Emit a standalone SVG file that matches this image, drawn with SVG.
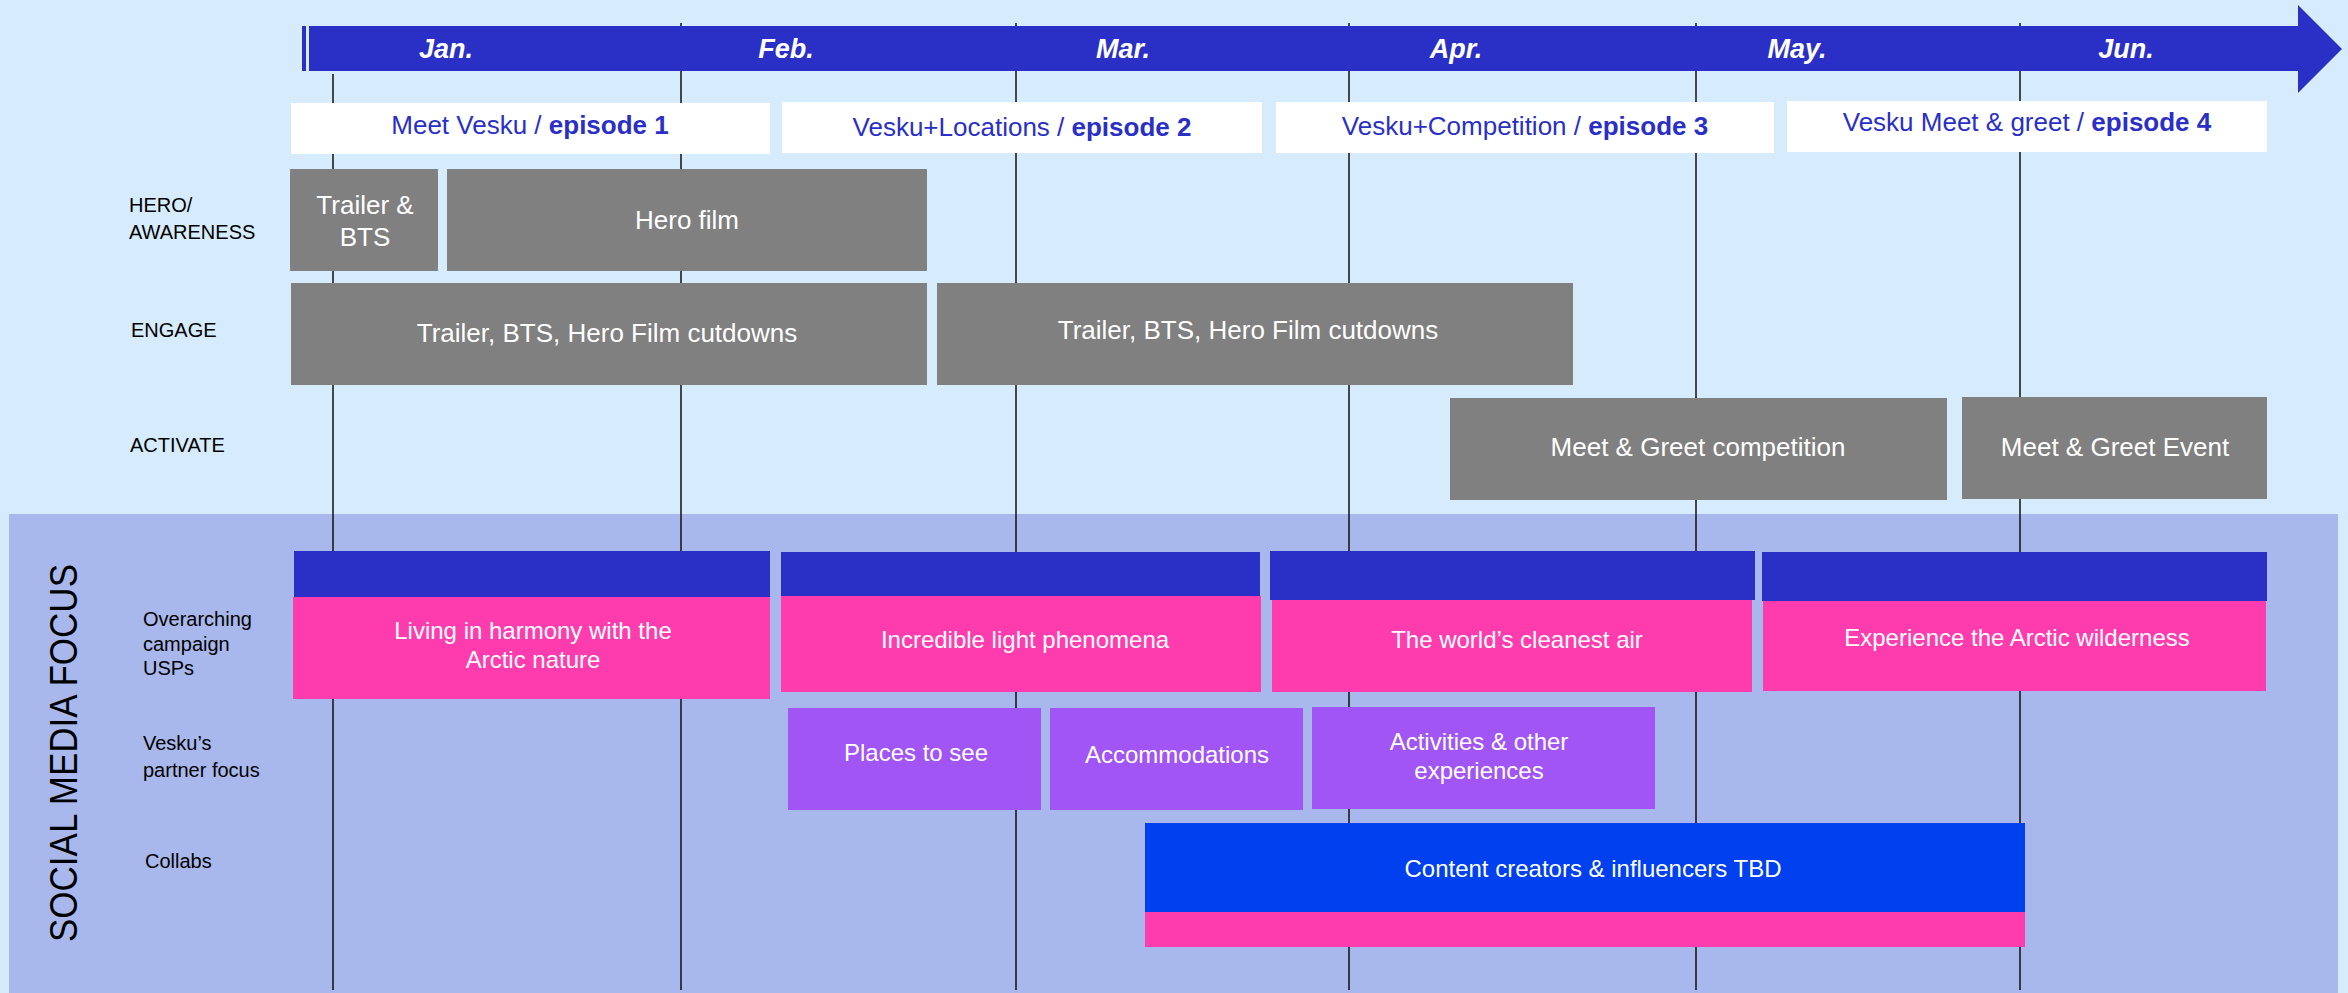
<svg xmlns="http://www.w3.org/2000/svg" width="2348" height="993" viewBox="0 0 2348 993">
<style>
text{font-family:"Liberation Sans",Arial,sans-serif}
.gray{fill:#808080}
.pink{fill:#ff3cae}
.navy{fill:#2a2fc6}
.purple{fill:#a155f5}
.ep{fill:#ffffff}
.ept{fill:#2a2fc6;font-size:26px}
.b{font-weight:bold}
.wt{fill:#ffffff;font-size:26px;text-anchor:middle}
.wu{fill:#ffffff;font-size:24px;text-anchor:middle}
.lbl{fill:#000000;font-size:20px}
.mon{fill:#ffffff;font-size:27px;font-weight:bold;font-style:italic;text-anchor:middle}
.grid{stroke:#111111;stroke-width:1.5}
</style>
<rect x="0" y="0" width="2348" height="993" fill="#d6ecfc"/>
<rect x="9" y="514" width="2329" height="479" fill="#a8b8ec"/>

<g id="month-lines">
<line class="grid" x1="333" y1="74" x2="333" y2="990"/>
<line class="grid" x1="681" y1="23" x2="681" y2="990"/>
<line class="grid" x1="1016" y1="23" x2="1016" y2="990"/>
<line class="grid" x1="1349" y1="23" x2="1349" y2="990"/>
<line class="grid" x1="1696" y1="23" x2="1696" y2="990"/>
<line class="grid" x1="2020" y1="23" x2="2020" y2="990"/>
</g>

<g id="timeline-arrow">
<rect x="302" y="26" width="4" height="45" class="navy"/>
<polygon class="navy" points="309,26 2298,26 2298,5 2342,49 2298,93 2298,71 309,71"/>
<text class="mon" x="446" y="58">Jan.</text>
<text class="mon" x="786" y="58">Feb.</text>
<text class="mon" x="1123" y="58">Mar.</text>
<text class="mon" x="1456" y="58">Apr.</text>
<text class="mon" x="1797" y="58">May.</text>
<text class="mon" x="2126" y="58">Jun.</text>
</g>

<g id="episode-1"><rect class="ep" x="291" y="103" width="479" height="51"/><text class="ept" x="530" y="134" text-anchor="middle">Meet Vesku / <tspan class="b">episode 1</tspan></text></g>
<g id="episode-2"><rect class="ep" x="782" y="102" width="480" height="51"/><text class="ept" x="1022" y="136" text-anchor="middle">Vesku+Locations / <tspan class="b">episode 2</tspan></text></g>
<g id="episode-3"><rect class="ep" x="1276" y="102" width="498" height="51"/><text class="ept" x="1525" y="135" text-anchor="middle">Vesku+Competition / <tspan class="b">episode 3</tspan></text></g>
<g id="episode-4"><rect class="ep" x="1787" y="101" width="480" height="51"/><text class="ept" x="2027" y="131" text-anchor="middle">Vesku Meet &amp; greet / <tspan class="b">episode 4</tspan></text></g>

<g id="label-hero"><text class="lbl" x="129" y="212">HERO/</text><text class="lbl" x="129" y="239">AWARENESS</text></g>
<g id="label-engage"><text class="lbl" x="131" y="337">ENGAGE</text></g>
<g id="label-activate"><text class="lbl" x="130" y="452">ACTIVATE</text></g>

<g id="trailer-bts"><rect class="gray" x="290" y="169" width="148" height="102"/><text class="wt" x="365" y="214">Trailer &amp;</text><text class="wt" x="365" y="246">BTS</text></g>
<g id="hero-film"><rect class="gray" x="447" y="169" width="480" height="102"/><text class="wt" x="687" y="229">Hero film</text></g>
<g id="engage-1"><rect class="gray" x="291" y="283" width="636" height="102"/><text class="wt" x="607" y="342">Trailer, BTS, Hero Film cutdowns</text></g>
<g id="engage-2"><rect class="gray" x="937" y="283" width="636" height="102"/><text class="wt" x="1248" y="339">Trailer, BTS, Hero Film cutdowns</text></g>
<g id="mg-competition"><rect class="gray" x="1450" y="398" width="497" height="102"/><text class="wt" x="1698" y="456">Meet &amp; Greet competition</text></g>
<g id="mg-event"><rect class="gray" x="1962" y="397" width="305" height="102"/><text class="wt" x="2115" y="456">Meet &amp; Greet Event</text></g>

<g id="label-social"><text x="0" y="0" transform="translate(77,753) rotate(-90)" font-size="38" text-anchor="middle" fill="#000000" textLength="378" lengthAdjust="spacingAndGlyphs">SOCIAL MEDIA FOCUS</text></g>
<g id="label-usps"><text class="lbl" x="143" y="626">Overarching</text><text class="lbl" x="143" y="651">campaign</text><text class="lbl" x="143" y="675">USPs</text></g>
<g id="label-partner"><text class="lbl" x="143" y="750">Vesku’s</text><text class="lbl" x="143" y="777">partner focus</text></g>
<g id="label-collabs"><text class="lbl" x="145" y="868">Collabs</text></g>

<g id="usp-1"><rect class="navy" x="294" y="551" width="476" height="46"/><rect class="pink" x="293" y="597" width="477" height="102"/><text class="wu" x="533" y="639">Living in harmony with the</text><text class="wu" x="533" y="668">Arctic nature</text></g>
<g id="usp-2"><rect class="navy" x="781" y="552" width="479" height="44"/><rect class="pink" x="781" y="596" width="480" height="96"/><text class="wu" x="1025" y="648">Incredible light phenomena</text></g>
<g id="usp-3"><rect class="navy" x="1270" y="551" width="485" height="49"/><rect class="pink" x="1272" y="600" width="480" height="92"/><text class="wu" x="1517" y="648">The world’s cleanest air</text></g>
<g id="usp-4"><rect class="navy" x="1762" y="552" width="505" height="49"/><rect class="pink" x="1763" y="601" width="503" height="90"/><text class="wu" x="2017" y="646">Experience the Arctic wilderness</text></g>

<g id="places"><rect class="purple" x="788" y="708" width="253" height="102"/><text class="wu" x="916" y="761">Places to see</text></g>
<g id="accommodations"><rect class="purple" x="1050" y="708" width="253" height="102"/><text class="wu" x="1177" y="763">Accommodations</text></g>
<g id="activities"><rect class="purple" x="1312" y="707" width="343" height="102"/><text class="wu" x="1479" y="750">Activities &amp; other</text><text class="wu" x="1479" y="779">experiences</text></g>

<g id="collabs-block"><rect x="1145" y="823" width="880" height="89" fill="#0040ef"/><rect class="pink" x="1145" y="912" width="880" height="35"/><text class="wu" x="1593" y="877">Content creators &amp; influencers TBD</text></g>
</svg>
